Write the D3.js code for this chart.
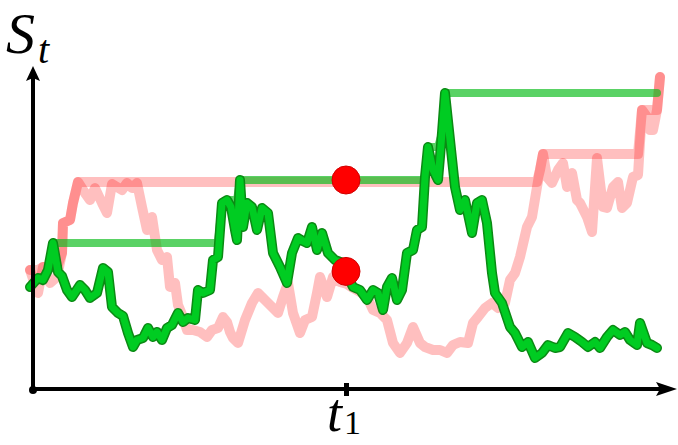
<!DOCTYPE html>
<html>
<head>
<meta charset="utf-8">
<script src="https://cdn.jsdelivr.net/npm/d3@7"></script>
<style>
  html, body { margin: 0; padding: 0; background: #fff; }
  svg { display: block; }
</style>
</head>
<body>
<svg id="chart" width="678" height="445"></svg>
<script>
// ---- data (time in arbitrary units, price S_t in arbitrary units) ----
const greenT = [0,8,13,18,23,28,32,37,42,50,55,60,67,73,78,82,88,93,98,103,107,113,118,123,127,132,137,142,148,153,158,165,168,173,180,183,188,192,197,201,205,207,210,213,217,222,227,232,238,243,250,257,262,268,273,277,282,287,292,298,305,313,318,323,330,337,343,348,353,357,362,367,372,377,383,387,392,395,398,403,408,412,415,420,425,430,435,442,447,452,457,462,465,472,480,485,492,498,505,512,518,525,530,538,545,552,558,565,570,577,583,590,595,600,607,610,617,622,627,630];
const greenS = [103,112,110,120,147,118,114,100,93,105,100,92,97,122,118,83,77,74,57,43,50,52,62,53,58,50,62,65,77,68,72,70,100,97,100,130,133,187,190,183,160,150,210,163,187,183,160,182,177,137,123,107,137,152,149,147,163,140,157,137,130,127,113,103,100,90,100,97,80,103,112,90,100,137,140,160,163,213,243,220,210,257,297,250,203,180,190,157,187,190,167,117,97,87,63,57,43,48,32,37,45,42,43,57,53,48,43,48,42,53,60,55,58,50,45,67,47,45,42];
const pinkT = [0,5,8,13,20,27,32,33,40,43,48,55,60,65,72,77,82,87,92,97,102,107,112,117,122,127,132,137,140,145,148,153,157,163,170,177,182,188,193,197,200,203,208,215,222,228,235,242,248,253,258,263,270,275,282,287,290,297,303,310,317,323,330,337,343,350,357,363,370,377,383,390,395,403,410,417,423,430,438,443,448,455,462,468,475,480,485,490,497,502,507,510,513,517,522,528,533,537,542,547,550,557,562,567,573,577,583,588,592,597,603,608,612,617,620,623,627,630];
const pinkS = [120,105,97,123,107,113,137,167,170,187,208,197,190,202,187,177,206,203,200,207,202,207,183,160,173,140,130,133,103,107,85,73,60,60,58,53,60,62,73,68,58,52,47,70,87,97,90,83,77,93,107,77,57,70,73,97,113,93,113,108,106,102,98,93,80,77,70,47,37,47,63,47,43,40,40,37,45,48,47,67,73,82,87,82,87,110,117,133,163,173,203,220,236,213,207,220,227,203,217,190,187,173,158,232,183,182,203,208,182,187,213,215,280,273,260,260,280,313];
const t1 = 316;
const xLabel = ["t", "1"];
const yLabel = ["S", "t"];

// ---- layout ----
const svg = d3.select("#chart");
const x = d3.scaleLinear().domain([0, 630]).range([30, 660]);
const y = d3.scaleLinear().domain([0, 330]).range([390, 60]);

const axisX0 = 33, axisY0 = 389, axisXEnd = 677, axisYEnd = 66;

function runningMax(arr) {
  let m = -Infinity;
  return arr.map(v => (m = Math.max(m, v)));
}
const greenMax = runningMax(greenS);
const pinkMax = runningMax(pinkS);

const line = d3.line().x(d => x(d[0])).y(d => y(d[1]));
const zip = (a, b) => a.map((v, i) => [v, b[i]]);

// pink path + its running max
svg.append("path").attr("d", line(zip(pinkT, pinkS)))
  .attr("fill", "none").attr("stroke", "#ff0000").attr("stroke-opacity", 0.25)
  .attr("stroke-width", 10).attr("stroke-linejoin", "round").attr("stroke-linecap", "round");
svg.append("path").attr("d", line(zip(pinkT, pinkMax)))
  .attr("fill", "none").attr("stroke", "#ff0000").attr("stroke-opacity", 0.25)
  .attr("stroke-width", 10).attr("stroke-linejoin", "round").attr("stroke-linecap", "round");

// green running max
svg.append("path").attr("d", line(zip(greenT, greenMax)))
  .attr("fill", "none").attr("stroke", "#0cbc1c").attr("stroke-opacity", 0.68)
  .attr("stroke-width", 8).attr("stroke-linejoin", "round").attr("stroke-linecap", "round");

// green path with dark outline
svg.append("path").attr("d", line(zip(greenT, greenS)))
  .attr("fill", "none").attr("stroke", "#0b8a14")
  .attr("stroke-width", 10).attr("stroke-linejoin", "round").attr("stroke-linecap", "round");
svg.append("path").attr("d", line(zip(greenT, greenS)))
  .attr("fill", "none").attr("stroke", "#00cc22")
  .attr("stroke-width", 7).attr("stroke-linejoin", "round").attr("stroke-linecap", "round");

// red dots at t1
function interpAt(ts, vs, t) {
  const i = d3.bisectLeft(ts, t);
  if (i <= 0) return vs[0];
  if (i >= ts.length) return vs[vs.length - 1];
  const f = (t - ts[i - 1]) / (ts[i] - ts[i - 1]);
  return vs[i - 1] + f * (vs[i] - vs[i - 1]);
}
const dots = [interpAt(greenT, greenMax, t1), interpAt(greenT, greenS, t1)];
svg.selectAll("circle.dot").data(dots).enter().append("circle")
  .attr("class", "dot")
  .attr("cx", x(t1)).attr("cy", d => y(d)).attr("r", 14)
  .attr("fill", "#ff0000").attr("stroke", "#d00000").attr("stroke-width", 1);

// axes
const ax = svg.append("g").attr("stroke", "#000").attr("fill", "#000");
ax.append("line").attr("x1", axisX0).attr("y1", axisY0).attr("x2", axisXEnd - 16).attr("y2", axisY0)
  .attr("stroke-width", 4);
ax.append("line").attr("x1", axisX0).attr("y1", axisY0).attr("x2", axisX0).attr("y2", axisYEnd + 12)
  .attr("stroke-width", 4);
ax.append("path").attr("stroke", "none")
  .attr("d", `M${axisXEnd},${axisY0} L${axisXEnd - 21},${axisY0 - 7} L${axisXEnd - 17},${axisY0} L${axisXEnd - 21},${axisY0 + 7} Z`);
ax.append("path").attr("stroke", "none")
  .attr("d", `M${axisX0},${axisYEnd} L${axisX0 - 7},${axisYEnd + 15} L${axisX0},${axisYEnd + 12} L${axisX0 + 7},${axisYEnd + 15} Z`);
ax.append("circle").attr("cx", axisX0).attr("cy", axisY0 + 1).attr("r", 4).attr("stroke", "none");

// tick at t1 through the d3 axis generator
const xAxis = d3.axisBottom(x).tickValues([t1]).tickSize(13).tickFormat("");
const gx = svg.append("g").attr("transform", `translate(0,${axisY0 - 6})`).call(xAxis);
gx.select(".domain").remove();
gx.selectAll(".tick line").attr("stroke", "#000").attr("stroke-width", 5);

// labels
const lab = svg.append("text").attr("x", x(t1) - 19).attr("y", 431)
  .attr("font-family", "'Liberation Serif', 'DejaVu Serif', serif").attr("font-size", 54).attr("fill", "#000");
lab.append("tspan").attr("font-style", "italic").text(xLabel[0]);
lab.append("tspan").attr("font-size", 34).attr("dx", 2).attr("dy", 3).text(xLabel[1]);

const ylab = svg.append("text").attr("x", 6).attr("y", 53)
  .attr("font-family", "'Liberation Serif', 'DejaVu Serif', serif").attr("font-size", 58).attr("fill", "#000");
ylab.append("tspan").attr("font-style", "italic").text(yLabel[0]);
ylab.append("tspan").attr("font-style", "italic").attr("font-size", 40).attr("dx", 3).attr("dy", 10).text(yLabel[1]);
</script>
</body>
</html>
